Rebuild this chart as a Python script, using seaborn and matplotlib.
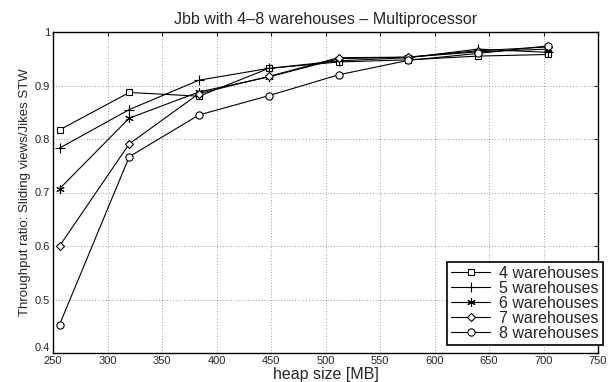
import matplotlib
matplotlib.use("Agg")
import matplotlib.pyplot as plt
import seaborn as sns
import pandas as pd

heap_sizes = [256, 320, 384, 448, 512, 576, 640, 704]
wh4 = [0.817, 0.887, 0.880, 0.932, 0.944, 0.948, 0.955, 0.958]
wh5 = [0.783, 0.855, 0.910, 0.932, 0.946, 0.952, 0.968, 0.962]
wh6 = [0.707, 0.839, 0.888, 0.916, 0.950, 0.953, 0.963, 0.968]
wh7 = [0.600, 0.791, 0.885, 0.917, 0.952, 0.953, 0.965, 0.972]
wh8 = [0.453, 0.767, 0.845, 0.881, 0.920, 0.947, 0.960, 0.974]
labels = ["4 warehouses", "5 warehouses", "6 warehouses", "7 warehouses", "8 warehouses"]
series = [wh4, wh5, wh6, wh7, wh8]
x_ticks = [250, 300, 350, 400, 450, 500, 550, 600, 650, 700, 750]
y_ticks = [0.4, 0.5, 0.6, 0.7, 0.8, 0.9, 1.0]
y_tick_labels = ["0.4", "0.5", "0.6", "0.7", "0.8", "0.9", "1"]

sns.set_style("white")
plt.rcParams['font.family'] = ['Liberation Sans', 'DejaVu Sans']

markers = ['s', '+', (6, 2, 0), 'D', 'o']
msizes = [4.2, 7, 6, 4.2, 5.2]

W, H = 609, 382
fig = plt.figure(figsize=(W/100, H/100), dpi=100)
ax = fig.add_axes([53/W, 1 - 353/H, (598-53)/W, (353-32)/H])

for lab, vals, m, ms in zip(labels, series, markers, msizes):
    df = pd.DataFrame({"x": heap_sizes, "y": vals})
    sns.lineplot(data=df, x="x", y="y", ax=ax, color="black", linewidth=0.8,
                 marker=m, markersize=ms, markerfacecolor="white",
                 markeredgecolor="black", markeredgewidth=0.8, label=lab)

ax.set_xlim(250, 750)
ax.set_ylim(0.4, 1.0)
ax.set_xticks(x_ticks)
ax.set_yticks(y_ticks)
ax.set_yticklabels(y_tick_labels)
ax.tick_params(direction="in", length=3, labelsize=8, top=True, right=True, width=0.8, pad=2)
ax.tick_params(axis="x", pad=2.5)
ytl = ax.get_yticklabels()
for t in ytl:
    t.set_verticalalignment("center_baseline")
ytl[0].set_verticalalignment("bottom")
ax.grid(True, linestyle=(0, (1, 3)), color="black", linewidth=0.5, alpha=0.7)
for s in ax.spines.values():
    s.set_linewidth(1.0)
    s.set_color("black")
    s.set_visible(True)

ax.set_title("Jbb with 4\u20138 warehouses \u2013 Multiprocessor", fontsize=11.5, pad=6)
ax.set_xlabel("heap size [MB]", fontsize=11.5, labelpad=0.5)
ax.set_ylabel("Throughput ratio: Sliding views/Jikes STW", fontsize=9.5, labelpad=3)

leg = ax.legend(loc="lower right", bbox_to_anchor=(603/W, 1 - 345/H),
                bbox_transform=fig.transFigure, fontsize=11.5, frameon=True,
                fancybox=False, edgecolor="black", borderpad=0.25, labelspacing=0.0,
                handlelength=2.4, handletextpad=0.6, borderaxespad=0.0)
leg.get_frame().set_linewidth(1.2)
leg.get_frame().set_alpha(1)

fig.savefig("out.png", dpi=100)
